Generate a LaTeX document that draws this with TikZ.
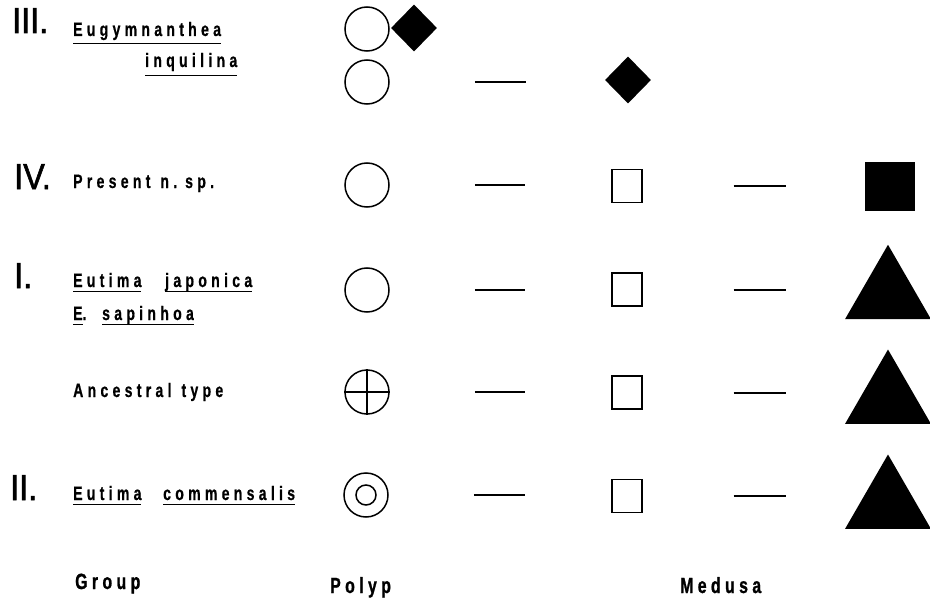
\documentclass[tikz,border=0pt]{standalone}
\usepackage{fontspec}
\usetikzlibrary{shapes.geometric}
\setmainfont{Liberation Sans}
% condensed, letter-spaced lettering for names and captions
\newfontfamily\labfont{Liberation Sans}[FakeStretch=0.72, LetterSpace=22, FakeBold=0.6]
\newfontfamily\capfont{Liberation Sans}[FakeStretch=0.72, LetterSpace=20, FakeBold=1]
\newfontfamily\numfont{Liberation Sans}[FakeStretch=0.9, FakeBold=1.6]
% word with a rule beneath it (optional argument: depth of the rule)
\newcommand\ulw[2][5]{\setbox0\hbox{#2}\rlap{\rule[-#1pt]{\wd0}{1.4pt}}\box0}

\begin{document}
\begin{tikzpicture}[x=1pt,y=-1pt,
  lab/.style={anchor=base west, inner sep=0pt, font=\labfont\bfseries\fontsize{19.5}{22}\selectfont},
  numl/.style={anchor=base west, inner sep=0pt, font=\numfont\fontsize{36}{40}\selectfont},
  captxt/.style={anchor=base west, inner sep=0pt, font=\capfont\bfseries\fontsize{22}{26}\selectfont},
  polyp/.style={draw, line width=1.5pt, circle, minimum size=44pt, inner sep=0pt},
  opensq/.style={draw, line width=1.4pt, rectangle, minimum width=30pt, minimum height=33pt, inner sep=0pt},
  fullsq/.style={fill=black, rectangle, minimum width=50pt, minimum height=49pt, inner sep=0pt},
  dia/.style={fill=black, diamond, minimum width=46pt, minimum height=47pt, inner sep=0pt},
  tri/.style={fill=black, regular polygon, regular polygon sides=3, minimum size=99pt, inner sep=0pt},
  dashline/.style={line width=2pt},
  thin/.style={line width=1.5pt}]
\useasboundingbox (0,0) rectangle (930,602);

% ---- group numbers and names
\node[numl] (n3) at (12,33) {III.};
\node[numl] (n4) at (14,189) {IV.};
\node[numl] (n1) at (14,288) {I.};
\node[numl] (n2) at (10,500) {II.};

\node[lab] (eug) at (73,36) {\ulw[8]{Eugymnanthea}};
\node[lab] (inq) at (145,67) {\ulw[9]{inquilina}};
\node[lab] (pres) at (73,188) {Present\hspace{10pt}n.\hspace{8pt}sp.};
\node[lab] (euti1) at (73,287) {\ulw{Eutima}};
\node[lab] (jap) at (165,287) {\ulw{japonica}};
\node[lab] (eabb) at (73,320) {\ulw{E}.};
\node[lab] (sap) at (102,320) {\ulw{sapinhoa}};
\node[lab] (anc) at (73,397) {Ancestral\hspace{10pt}type};
\node[lab] (euti2) at (73,500) {\ulw{Eutima}};
\node[lab] (comm) at (163,500) {\ulw{commensalis}};

% ---- column captions
\node[captxt] (cgroup) at (75,589) {Group};
\node[captxt] (cpolyp) at (330,593) {Polyp};
\node[captxt] (cmedusa) at (680,593) {Medusa};

% ---- group III
\node[polyp] (c3a) at (367,29) {};
\node[dia] (d3a) at (414,28) {};
\node[polyp] (c3b) at (367,82) {};
\node[dia] (d3b) at (628,80) {};
\draw[dashline, shorten <=85pt, shorten >=79pt] (c3b.east) -- (c3b.east -| d3b.west);

% ---- group IV
\node[polyp] (c4) at (367,185) {};
\node[opensq] (s4) at (627,186) {};
\node[fullsq] (f4) at (890,186.5) {};
\draw[dashline, shorten <=85pt, shorten >=86pt] (c4.east) -- (c4.east -| s4.west);
\draw[dashline, shorten <=91pt, shorten >=79pt] (s4.east) -- (s4.east -| f4.west);

% ---- group I
\node[polyp] (c1) at (367,290) {};
\node[opensq] (s1) at (627,289.5) {};
\node[tri] (t1) at (888,294.25) {};
\coordinate (t1w) at (859,289.5);
\draw[dashline, shorten <=85pt, shorten >=86pt] (c1.east) -- (c1.east -| s1.west);
\draw[dashline, shorten <=91pt, shorten >=73pt] (s1.east) -- (t1w);

% ---- ancestral type
\node[polyp] (c0) at (367,392) {};
\draw[thin] (c0.north) -- (c0.south) (c0.west) -- (c0.east);
\node[opensq] (s0) at (627,392.5) {};
\node[tri] (t0) at (888,399) {};
\coordinate (t0w) at (859,392.5);
\draw[dashline, shorten <=85pt, shorten >=86pt] (c0.east) -- (c0.east -| s0.west);
\draw[dashline, shorten <=91pt, shorten >=73pt] (s0.east) -- (t0w);

% ---- group II
\node[polyp] (c2) at (366,495) {};
\node[draw, thin, circle, minimum size=20pt, inner sep=0pt] (c2i) at (c2.center) {};
\node[opensq] (s2) at (627,496) {};
\node[tri] (t2) at (888,504) {};
\coordinate (t2w) at (859,496);
\draw[dashline, shorten <=85pt, shorten >=86pt] (c2.east) -- (c2.east -| s2.west);
\draw[dashline, shorten <=91pt, shorten >=73pt] (s2.east) -- (t2w);
\end{tikzpicture}
\end{document}
